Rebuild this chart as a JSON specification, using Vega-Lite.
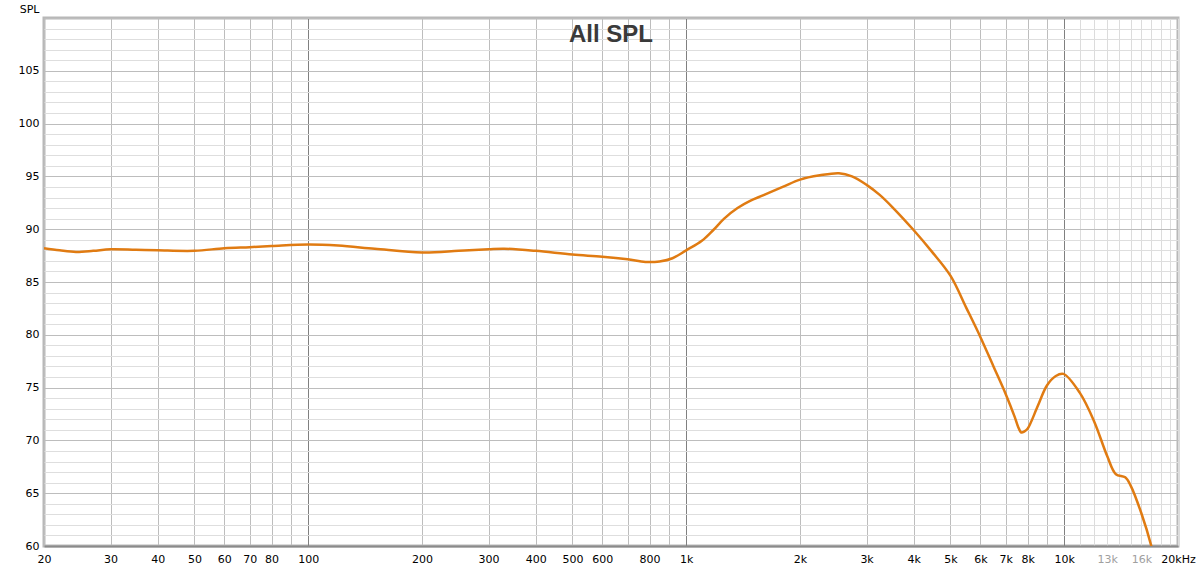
{
  "$schema": "https://vega.github.io/schema/vega-lite/v6.json",
  "width": 1134,
  "height": 528,
  "autosize": {"type": "none"},
  "padding": {"left": 44, "top": 18, "right": 22, "bottom": 25},
  "background": "white",
  "config": {
    "view": {"stroke": "#b8b8b8", "strokeWidth": 3},
    "font": "DejaVu Sans"
  },
  "title": {
    "text": "All SPL",
    "font": "Liberation Sans",
    "fontSize": 24,
    "fontWeight": "bold",
    "color": "#3a3a3a",
    "anchor": "middle",
    "frame": "group",
    "offset": 0,
    "dy": 63,
    "baseline": "alphabetic"
  },
  "data": {
    "values": [
      {"freq": 20, "spl": 88.2},
      {"freq": 22, "spl": 88.0},
      {"freq": 24.3, "spl": 87.85},
      {"freq": 27, "spl": 87.95},
      {"freq": 30, "spl": 88.1},
      {"freq": 35, "spl": 88.05},
      {"freq": 40, "spl": 88.0},
      {"freq": 50, "spl": 87.95},
      {"freq": 60, "spl": 88.2},
      {"freq": 70, "spl": 88.3},
      {"freq": 80, "spl": 88.4},
      {"freq": 100, "spl": 88.55},
      {"freq": 120, "spl": 88.45},
      {"freq": 150, "spl": 88.15},
      {"freq": 200, "spl": 87.8},
      {"freq": 250, "spl": 87.95},
      {"freq": 300, "spl": 88.1},
      {"freq": 330, "spl": 88.15},
      {"freq": 400, "spl": 87.95},
      {"freq": 500, "spl": 87.6},
      {"freq": 600, "spl": 87.4},
      {"freq": 700, "spl": 87.15},
      {"freq": 780, "spl": 86.9},
      {"freq": 850, "spl": 86.95},
      {"freq": 920, "spl": 87.25},
      {"freq": 1000, "spl": 88.0},
      {"freq": 1100, "spl": 88.9},
      {"freq": 1178, "spl": 89.9},
      {"freq": 1260, "spl": 91.0},
      {"freq": 1367, "spl": 92.0},
      {"freq": 1480, "spl": 92.7},
      {"freq": 1596, "spl": 93.2},
      {"freq": 1800, "spl": 94.0},
      {"freq": 2000, "spl": 94.7},
      {"freq": 2257, "spl": 95.1},
      {"freq": 2535, "spl": 95.3},
      {"freq": 2745, "spl": 95.0},
      {"freq": 3000, "spl": 94.2},
      {"freq": 3250, "spl": 93.25},
      {"freq": 3509, "spl": 92.1},
      {"freq": 4000, "spl": 89.9},
      {"freq": 4460, "spl": 87.9},
      {"freq": 5000, "spl": 85.6},
      {"freq": 5500, "spl": 82.6},
      {"freq": 6000, "spl": 79.8},
      {"freq": 6500, "spl": 77.0},
      {"freq": 7000, "spl": 74.4},
      {"freq": 7400, "spl": 72.2},
      {"freq": 7550, "spl": 71.3},
      {"freq": 7700, "spl": 70.75},
      {"freq": 7850, "spl": 70.85},
      {"freq": 8000, "spl": 71.1},
      {"freq": 8500, "spl": 73.2},
      {"freq": 9000, "spl": 75.2},
      {"freq": 9500, "spl": 76.1},
      {"freq": 9950, "spl": 76.3},
      {"freq": 11000, "spl": 74.5},
      {"freq": 12000, "spl": 71.8},
      {"freq": 13000, "spl": 68.5},
      {"freq": 13700, "spl": 66.8},
      {"freq": 14500, "spl": 66.5},
      {"freq": 15000, "spl": 65.7},
      {"freq": 16000, "spl": 63.1},
      {"freq": 17000, "spl": 60.0},
      {"freq": 17500, "spl": 58.0}
    ]
  },
  "mark": {
    "type": "line",
    "color": "#E07B12",
    "strokeWidth": 2.5,
    "interpolate": "catmull-rom",
    "clip": true
  },
  "encoding": {
    "x": {
      "field": "freq",
      "type": "quantitative",
      "scale": {"type": "log", "domain": [20, 20000], "nice": false},
      "axis": {
        "title": null,
        "values": [20, 30, 40, 50, 60, 70, 80, 90, 100, 200, 300, 400, 500, 600, 700, 800, 900, 1000, 2000, 3000, 4000, 5000, 6000, 7000, 8000, 9000, 10000, 11000, 12000, 13000, 14000, 15000, 16000, 17000, 18000, 19000, 20000],
        "ticks": false,
        "tickSize": 0,
        "labelPadding": 7,
        "labelFlush": false,
        "labelOverlap": false,
        "labelBound": false,
        "labelFont": "DejaVu Sans",
        "labelFontSize": 11,
        "labelColor": {"condition": {"test": "datum.value == 13000 || datum.value == 16000", "value": "#a0a0a0"}, "value": "#000000"},
        "labelExpr": "indexof([20,30,40,50,60,70,80,100,200,300,400,500,600,800,1000,2000,3000,4000,5000,6000,7000,8000,10000,13000,16000], datum.value) >= 0 ? (datum.value >= 1000 ? (datum.value / 1000) + 'k' : '' + datum.value) : (datum.value == 20000 ? '20kHz' : '')",
        "grid": true,
        "gridWidth": 1,
        "gridColor": {"condition": [{"test": "datum.value == 100 || datum.value == 1000 || datum.value == 10000", "value": "#808080"}, {"test": "datum.value > 10000", "value": "#dcdcdc"}], "value": "#bdbdbd"},
        "domainColor": "#8a8a8a",
        "domainWidth": 2
      }
    },
    "y": {
      "field": "spl",
      "type": "quantitative",
      "scale": {"domain": [60, 110], "nice": false, "zero": false},
      "axis": {
        "title": "SPL",
        "titleAngle": 0,
        "titleAlign": "right",
        "titleBaseline": "alphabetic",
        "titleX": -5,
        "titleY": -6,
        "titleFont": "DejaVu Sans",
        "titleFontSize": 11,
        "titleFontWeight": "normal",
        "titleColor": "#000000",
        "values": [60, 61, 62, 63, 64, 65, 66, 67, 68, 69, 70, 71, 72, 73, 74, 75, 76, 77, 78, 79, 80, 81, 82, 83, 84, 85, 86, 87, 88, 89, 90, 91, 92, 93, 94, 95, 96, 97, 98, 99, 100, 101, 102, 103, 104, 105, 106, 107, 108, 109, 110],
        "ticks": false,
        "tickSize": 0,
        "labelPadding": 5,
        "labelFont": "DejaVu Sans",
        "labelFontSize": 11,
        "labelColor": "#000000",
        "labelOverlap": false,
        "labelBound": false,
        "labelFlush": false,
        "labelExpr": "(datum.value % 5 == 0 && datum.value < 110) ? datum.label : ''",
        "grid": true,
        "gridWidth": 1,
        "gridColor": {"condition": {"test": "datum.value % 5 == 0", "value": "#bdbdbd"}, "value": "#dedede"},
        "domain": false
      }
    }
  }
}
